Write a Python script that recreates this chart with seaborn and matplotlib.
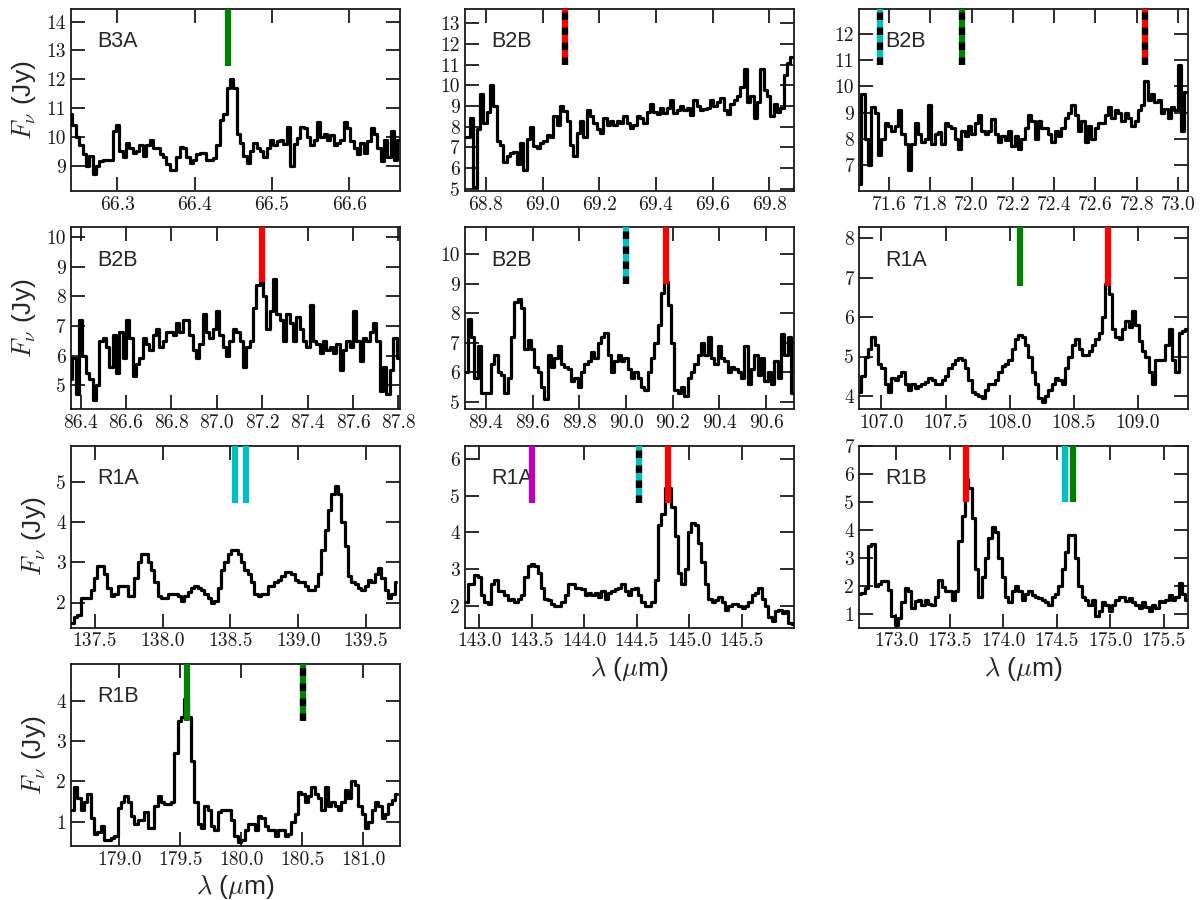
import numpy as np
import matplotlib
matplotlib.use('Agg')
import matplotlib.pyplot as plt
import seaborn as sns
from matplotlib.ticker import MultipleLocator, FormatStrFormatter

# ---- data (flux in Jy on a regular wavelength grid) ----
b3a_66_wl = (66.240, 66.664)
b3a_66_flux = [10.8, 10.4, 10.0, 9.7, 9.4, 9.0, 9.35, 8.7, 9.0, 9.15, 9.2, 9.2, 9.2, 10.2, 10.4, 9.5,
               9.3, 9.8, 9.6, 9.45, 9.5, 9.7, 9.35, 9.7, 9.9, 9.6, 9.6, 9.4, 9.3, 9.05, 8.85, 8.85,
               9.3, 9.65, 9.6, 9.3, 9.1, 9.2, 9.4, 9.45, 9.45, 9.2, 9.2, 9.25, 9.7, 10.6, 10.8, 11.7,
               12.0, 11.7, 10.1, 9.8, 9.35, 9.1, 9.5, 9.8, 9.6, 9.5, 9.3, 9.6, 9.9, 9.7, 9.85, 9.9,
               9.75, 10.35, 9.0, 9.75, 9.95, 10.35, 10.3, 10.0, 9.7, 9.9, 10.5, 10.0, 10.1, 9.9, 10.05,
               9.7, 9.8, 9.9, 10.5, 10.3, 9.85, 9.6, 9.4, 9.8, 9.45, 9.85, 10.3, 10.1, 9.6, 9.15, 9.9,
               9.3, 10.2, 9.2, 9.9]

b2b_69_wl = (68.726, 69.879)
b2b_69_flux = [7.5, 7.5, 8.4, 5.1, 7.9, 9.6, 8.2, 8.7, 10.0, 9.0, 7.3, 7.1, 6.3, 6.6, 6.75, 6.8,
               6.2, 7.2, 5.9, 7.4, 8.0, 7.05, 6.95, 7.2, 7.3, 7.6, 7.5, 8.5, 8.1, 9.0, 8.75, 8.3,
               7.1, 6.6, 7.7, 8.3, 7.5, 8.8, 8.5, 8.2, 7.9, 7.7, 8.4, 8.1, 8.3, 8.1, 8.3, 8.2, 8.5,
               8.2, 7.95, 8.1, 8.5, 8.4, 8.2, 8.7, 9.1, 8.7, 8.6, 8.9, 8.65, 8.9, 9.3, 8.65, 8.8,
               9.0, 8.8, 8.9, 8.55, 9.3, 9.0, 8.8, 8.85, 8.9, 9.3, 9.0, 9.2, 9.4, 8.8, 8.6, 9.1,
               9.3, 9.5, 9.9, 10.8, 9.2, 9.5, 8.4, 9.2, 10.8, 9.8, 9.5, 8.5, 9.1, 8.7, 8.9, 10.5,
               11.1, 11.4]

b2b_72_wl = (71.458, 73.039)
b2b_72_flux = [6.3, 9.7, 8.0, 7.0, 9.2, 9.0, 7.4, 8.0, 8.6, 8.5, 8.3, 8.5, 9.1, 8.2, 7.8, 6.8,
               7.8, 8.6, 8.2, 7.9, 8.0, 9.3, 7.8, 8.2, 8.25, 7.8, 8.6, 8.5, 8.4, 8.0, 7.6, 8.3,
               8.1, 8.5, 8.2, 8.6, 8.9, 8.3, 8.2, 8.3, 8.75, 8.2, 7.9, 8.1, 7.95, 8.3, 7.75, 8.1,
               7.6, 8.0, 8.4, 8.9, 8.7, 8.0, 8.7, 8.4, 8.4, 8.2, 7.9, 8.3, 8.1, 8.4, 8.8, 9.0,
               9.3, 8.9, 8.3, 8.7, 7.9, 8.5, 8.0, 8.4, 8.6, 8.6, 8.9, 9.2, 8.8, 9.1, 9.0, 8.7,
               9.0, 8.8, 8.5, 8.7, 9.1, 9.3, 10.2, 9.5, 9.7, 9.4, 9.5, 9.0, 9.15, 8.8, 9.2, 9.1,
               10.8, 8.3, 9.8]

b2b_87_wl = (86.357, 87.799)
b2b_87_flux = [5.2, 5.9, 4.7, 7.2, 6.0, 5.4, 5.2, 4.5, 5.0, 6.5, 6.6, 6.3, 5.6, 6.7, 5.4, 6.8,
               5.9, 7.2, 6.6, 5.3, 5.7, 5.9, 6.6, 6.4, 6.2, 6.7, 6.9, 6.3, 6.5, 6.8, 6.8, 6.7,
               7.1, 6.8, 7.2, 7.2, 6.7, 6.2, 5.9, 6.4, 7.4, 6.8, 6.6, 6.9, 7.5, 6.7, 6.3, 6.0,
               6.5, 6.9, 6.8, 6.5, 5.6, 6.3, 6.5, 7.6, 8.4, 8.6, 8.0, 6.9, 7.5, 8.6, 7.4, 7.2,
               6.5, 7.4, 7.1, 6.5, 7.3, 6.9, 6.5, 6.3, 7.7, 6.5, 6.4, 6.1, 6.5, 6.2, 6.3, 6.1,
               6.4, 5.5, 6.2, 6.5, 6.3, 7.5, 6.5, 5.8, 6.6, 6.5, 6.8, 7.1, 6.5, 4.8, 5.6, 4.7,
               5.5, 6.6, 5.9]

b2b_90_wl = (89.314, 90.714)
b2b_90_flux = [6.0, 7.8, 7.2, 5.8, 6.9, 5.3, 5.3, 5.3, 6.3, 6.6, 6.0, 5.9, 5.3, 5.8, 7.2, 8.4,
               8.5, 8.2, 6.8, 7.1, 6.8, 6.2, 6.0, 5.5, 5.1, 6.6, 6.2, 6.5, 6.9, 6.3, 6.2, 6.1,
               5.7, 5.8, 5.5, 6.0, 6.3, 6.4, 6.7, 6.5, 7.0, 7.2, 7.35, 6.6, 6.0, 6.4, 6.6, 6.4,
               6.5, 6.1, 5.8, 6.0, 5.8, 5.5, 5.4, 6.0, 6.5, 7.0, 7.6, 8.7, 9.05, 8.3, 7.0, 5.4,
               5.3, 5.5, 5.2, 5.8, 6.0, 6.3, 6.6, 7.0, 6.6, 7.2, 6.5, 6.3, 6.9, 6.5, 6.4, 6.0,
               6.2, 6.1, 6.0, 5.8, 6.9, 5.6, 6.1, 6.6, 5.9, 6.5, 5.7, 6.0, 5.6, 6.4, 5.8, 7.3,
               6.6, 7.2, 5.3]

r1a_108_wl = (106.831, 109.383)
r1a_108_flux = [4.1, 4.5, 5.0, 5.2, 5.5, 5.3, 4.8, 4.7, 4.3, 4.1, 4.45, 4.4, 4.5, 4.6, 4.3, 4.15,
                4.3, 4.2, 4.25, 4.3, 4.35, 4.45, 4.4, 4.3, 4.3, 4.4, 4.5, 4.7, 4.8, 4.9, 4.95, 4.9,
                4.7, 4.4, 4.1, 4.05, 4.0, 3.95, 4.15, 4.3, 4.3, 4.4, 4.6, 4.75, 4.8, 4.9, 5.2,
                5.45, 5.55, 5.5, 5.3, 5.0, 4.6, 4.3, 3.95, 3.85, 4.0, 4.15, 4.3, 4.45, 4.4, 4.3,
                4.7, 5.0, 5.3, 5.45, 5.2, 5.05, 5.05, 5.15, 5.3, 5.45, 5.6, 6.0, 6.85, 6.6, 5.7,
                5.5, 5.45, 5.7, 5.9, 5.75, 6.15, 5.8, 5.4, 5.15, 5.0, 4.6, 4.3, 4.9, 4.9, 4.9,
                5.3, 5.7, 4.9, 4.6, 5.6, 5.65, 5.7]

r1a_138_wl = (137.335, 139.724)
r1a_138_flux = [1.5, 1.65, 1.7, 2.1, 2.1, 2.1, 2.3, 2.6, 2.9, 2.9, 2.7, 2.35, 2.15, 2.2, 2.4, 2.4,
                2.4, 2.15, 2.15, 2.6, 3.0, 3.2, 3.2, 3.0, 2.8, 2.5, 2.15, 2.1, 2.1, 2.2, 2.2, 2.2,
                2.15, 2.05, 2.15, 2.25, 2.35, 2.4, 2.35, 2.3, 2.2, 2.1, 2.0, 2.05, 2.35, 2.8, 3.0,
                3.2, 3.3, 3.3, 3.2, 3.0, 2.8, 2.7, 2.5, 2.2, 2.15, 2.2, 2.2, 2.4, 2.4, 2.5, 2.55,
                2.65, 2.75, 2.75, 2.7, 2.55, 2.5, 2.5, 2.4, 2.3, 2.3, 2.4, 2.7, 3.3, 3.8, 4.3, 4.7,
                4.9, 4.7, 4.0, 3.4, 2.65, 2.5, 2.45, 2.35, 2.3, 2.4, 2.55, 2.5, 2.7, 2.85, 2.6,
                2.3, 2.1, 2.2, 2.5]

r1a_144_wl = (142.873, 145.990)
r1a_144_flux = [2.1, 2.6, 2.6, 2.85, 2.8, 2.3, 2.1, 2.05, 2.6, 2.7, 2.4, 2.4, 2.3, 2.15, 2.2, 2.1,
                2.2, 2.3, 2.8, 3.1, 3.15, 3.1, 2.9, 2.5, 2.2, 2.15, 2.05, 2.0, 2.0, 2.1, 2.3, 2.6,
                2.6, 2.5, 2.5, 2.45, 2.3, 2.35, 2.3, 2.35, 2.25, 2.4, 2.2, 2.35, 2.4, 2.45, 2.5,
                2.6, 2.4, 2.3, 2.45, 2.5, 2.3, 2.1, 2.0, 2.0, 2.1, 2.7, 4.2, 4.5, 5.2, 5.2, 4.7,
                3.9, 2.9, 2.6, 3.0, 4.0, 4.25, 4.2, 3.7, 3.2, 2.6, 2.2, 2.1, 2.15, 2.25, 2.1, 1.9,
                2.0, 2.05, 2.05, 2.0, 1.95, 2.0, 2.1, 2.3, 2.35, 2.5, 2.2, 2.0, 1.7, 1.6, 1.85,
                1.9, 1.8, 1.85, 1.55, 1.5]

r1b_174_wl = (172.656, 175.719)
r1b_174_flux = [1.7, 1.75, 1.9, 3.4, 3.5, 2.0, 2.05, 2.15, 2.15, 1.85, 0.9, 0.6, 0.85, 1.4, 1.9,
                1.8, 1.2, 1.45, 1.5, 1.3, 1.5, 1.35, 1.3, 1.6, 2.2, 1.95, 1.8, 1.8, 1.5, 1.8, 3.6,
                4.5, 5.8, 5.5, 4.4, 2.6, 1.6, 2.3, 3.0, 3.7, 4.1, 3.9, 3.0, 2.3, 1.6, 1.4, 1.8,
                2.0, 1.8, 1.5, 1.7, 1.8, 1.65, 1.6, 1.55, 1.5, 1.4, 1.3, 1.6, 1.7, 2.0, 2.6, 3.2,
                3.8, 3.8, 3.0, 2.0, 1.6, 1.5, 1.3, 1.5, 0.9, 1.1, 1.4, 1.3, 1.1, 1.3, 1.5, 1.6,
                1.6, 1.45, 1.55, 1.4, 1.3, 1.2, 1.4, 1.25, 1.1, 1.3, 1.2, 1.45, 1.4, 1.5, 1.65,
                1.5, 1.6, 2.1, 1.7, 1.5]

r1b_180_wl = (178.616, 181.274)
r1b_180_flux = [1.3, 1.85, 1.6, 1.3, 1.5, 1.7, 1.1, 0.7, 0.75, 0.9, 0.55, 0.55, 0.6, 0.65, 1.35,
                1.5, 1.65, 1.5, 1.15, 0.95, 1.05, 1.05, 1.25, 0.85, 0.85, 1.4, 1.65, 1.5, 1.45,
                1.45, 1.5, 2.7, 3.5, 3.6, 4.05, 3.6, 2.5, 1.5, 0.95, 0.85, 1.4, 1.3, 0.9, 0.8,
                1.25, 1.3, 1.3, 1.3, 1.05, 0.65, 0.5, 0.55, 0.8, 0.95, 0.95, 0.8, 1.15, 1.1, 0.9,
                0.8, 0.8, 0.65, 0.8, 0.8, 0.65, 0.7, 1.0, 1.2, 1.75, 1.7, 1.5, 1.65, 1.85, 1.7,
                1.6, 1.3, 1.85, 1.4, 1.5, 1.4, 1.3, 1.5, 1.8, 1.6, 2.0, 1.9, 1.4, 1.2, 0.85, 1.0,
                1.3, 1.5, 1.4, 1.1, 1.2, 1.45, 1.55, 1.7]

# line markers: (wavelength, lower end in Jy, colour, dashed with black?)
b3a_66_lines = [(66.4425, 12.45, 'g', False)]
b2b_69_lines = [(69.079, 11.0, 'r', True)]
b2b_72_lines = [(71.555, 10.82, 'c', True), (71.956, 10.82, 'g', True), (72.84, 10.82, 'r', True)]
b2b_87_lines = [(87.2, 8.5, 'r', False)]
b2b_90_lines = [(90.0, 9.0, 'c', True), (90.171, 9.0, 'r', False)]
r1a_108_lines = [(108.083, 6.8, 'g', False), (108.768, 6.8, 'r', False)]
r1a_138_lines = [(138.537, 4.48, 'c', False), (138.616, 4.48, 'c', False)]
r1a_144_lines = [(143.5, 4.8, 'm', False), (144.522, 4.8, 'c', True), (144.793, 4.8, 'r', False)]
r1b_174_lines = [(173.647, 5.0, 'r', False), (174.578, 5.0, 'c', False), (174.65, 5.0, 'g', False)]
r1b_180_lines = [(179.553, 3.5, 'g', False), (180.507, 3.5, 'g', True)]

panels = [
    ('B3A', b3a_66_wl, b3a_66_flux, b3a_66_lines, (66.24, 66.665), (8.12, 14.44), 0.1),
    ('B2B', b2b_69_wl, b2b_69_flux, b2b_69_lines, (68.726, 69.886), (4.89, 13.7), 0.2),
    ('B2B', b2b_72_wl, b2b_72_flux, b2b_72_lines, (71.455, 73.048), (6.02, 12.95), 0.2),
    ('B2B', b2b_87_wl, b2b_87_flux, b2b_87_lines, (86.357, 87.806), (4.18, 10.34), 0.2),
    ('B2B', b2b_90_wl, b2b_90_flux, b2b_90_lines, (89.31, 90.719), (4.75, 10.92), 0.2),
    ('R1A', r1a_108_wl, r1a_108_flux, r1a_108_lines, (106.826, 109.39), (3.66, 8.28), 0.5),
    ('R1A', r1a_138_wl, r1a_138_flux, r1a_138_lines, (137.323, 139.749), (1.375, 5.9), 0.5),
    ('R1A', r1a_144_wl, r1a_144_flux, r1a_144_lines, (142.863, 145.995), (1.41, 6.36), 0.5),
    ('R1B', r1b_174_wl, r1b_174_flux, r1b_174_lines, (172.65, 175.728), (0.5, 7.0), 0.5),
    ('R1B', r1b_180_wl, r1b_180_flux, r1b_180_lines, (178.603, 181.30), (0.4, 4.91), 0.5),
]

# ---- style ----
sns.set_style('ticks')
plt.rcParams.update({
    'font.family': 'cmr10',
    'mathtext.fontset': 'cm',
    'axes.formatter.use_mathtext': True,
    'axes.linewidth': 1.3,
    'axes.edgecolor': '#1a1a1a',
    'xtick.direction': 'in', 'ytick.direction': 'in',
    'xtick.top': True, 'ytick.right': True,
    'xtick.major.size': 10, 'ytick.major.size': 10,
    'xtick.major.width': 1.3, 'ytick.major.width': 1.3,
    'xtick.labelsize': 14, 'ytick.labelsize': 14,
    'xtick.color': '#1a1a1a', 'ytick.color': '#1a1a1a',
})
sans = 'Liberation Sans'

fig = plt.figure(figsize=(12, 9), dpi=100)
gs = fig.add_gridspec(4, 3, left=0.059, right=0.99, top=0.99, bottom=0.06,
                      wspace=0.198, hspace=0.2)

for i, (name, wl, flux, lines, xlim, ylim, xstep) in enumerate(panels):
    ax = fig.add_subplot(gs[i // 3, i % 3])
    wave = np.linspace(wl[0], wl[1], len(flux))
    sns.lineplot(x=wave, y=flux, ax=ax, color='k', lw=2.3, drawstyle='steps-mid',
                 estimator=None, sort=False, zorder=3)
    for xl, ybot, col, dashed in lines:
        ax.vlines(xl, ybot, ylim[1], colors=col, lw=4.5, zorder=4)
        if dashed:
            ax.vlines(xl, ybot, ylim[1], colors='k', lw=4.5, linestyles=(0, (1.2, 1.2)), zorder=5)
    ax.set_xlim(*xlim)
    ax.set_ylim(*ylim)
    ax.xaxis.set_major_locator(MultipleLocator(xstep))
    ax.xaxis.set_major_formatter(FormatStrFormatter('%.1f'))
    ax.yaxis.set_major_locator(MultipleLocator(1))
    ax.yaxis.set_major_formatter(FormatStrFormatter('%d'))
    ax.minorticks_off()
    ax.text(0.08, 0.82, name, transform=ax.transAxes, fontsize=15.5, family=sans,
            va='center', ha='left', zorder=1)
    if i % 3 == 0:
        ax.set_ylabel(r'$F_\nu$ (Jy)', fontsize=19, family=sans, labelpad=6)
    if i >= 7:
        ax.set_xlabel(r'$\lambda$ ($\mu$m)', fontsize=19, family=sans, labelpad=3)

fig.savefig('out.png', dpi=100)
